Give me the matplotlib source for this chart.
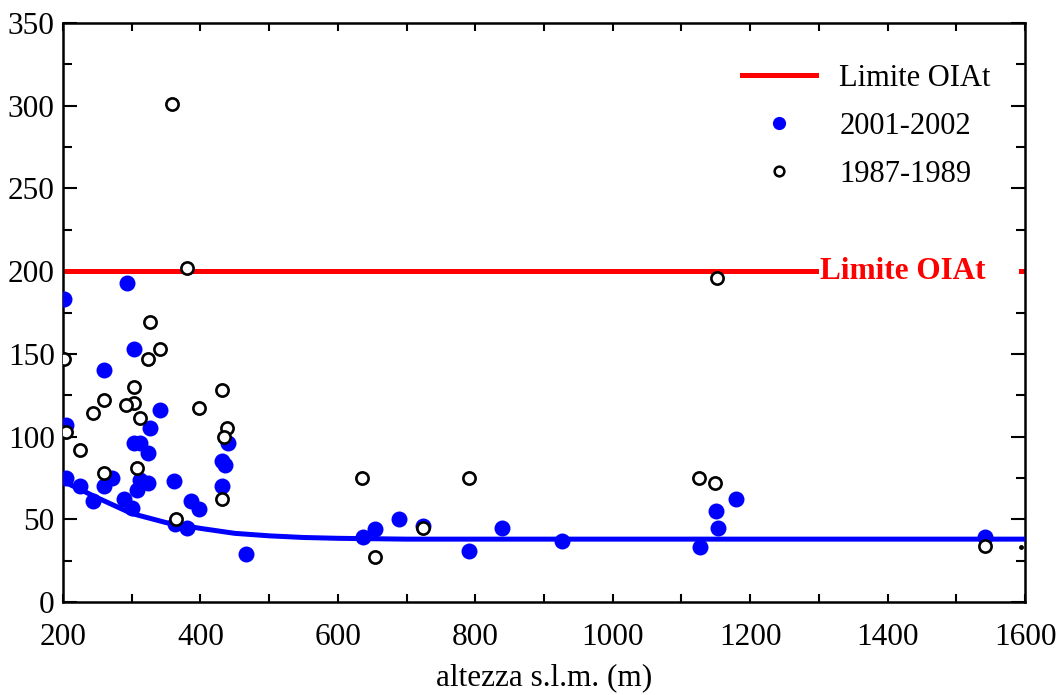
import matplotlib.pyplot as plt
from matplotlib.lines import Line2D
from matplotlib.ticker import MultipleLocator

plt.rcParams['font.family'] = ['Liberation Serif', 'DejaVu Serif']

# 2001-2002 survey (filled blue)
alt_2001 = [202, 293, 303, 259, 341, 205, 327, 304, 312, 323, 440, 432, 436, 432,
            205, 271, 259, 225, 312, 324, 307, 361, 243, 289, 300, 386, 398, 363,
            381, 466, 637, 654, 689, 724, 791, 839, 926, 1127, 1150, 1153, 1180, 1542]
val_2001 = [183, 193, 153, 140, 116, 107, 105, 96, 96, 90, 96, 85, 83, 70,
            75, 75, 70, 70, 74, 72, 68, 73, 61, 62, 57, 61, 56, 47,
            45, 29, 39, 44, 50, 46, 31, 45, 37, 33, 55, 45, 62, 39]

# 1987-1989 survey (open circles)
alt_1987 = [359, 380, 1152, 327, 341, 323, 202, 303, 432, 259, 303, 292, 398, 243,
            312, 439, 435, 205, 225, 307, 259, 432, 365, 635, 654, 724, 791, 1126,
            1149, 1542]
val_1987 = [301, 202, 196, 169, 153, 147, 147, 130, 128, 122, 120, 119, 117, 114,
            111, 105, 100, 103, 92, 81, 78, 62, 50, 75, 27, 45, 75, 75,
            72, 34]

# trend curve for 2001-2002
trend_x = [200, 250, 300, 350, 400, 450, 500, 550, 600, 700, 1600]
trend_y = [73, 63, 53.5, 48, 44.5, 41.5, 40, 39, 38.5, 38, 38]

limit = 200
stray_x = [1594]
stray_y = [33]

fig = plt.figure(figsize=(10.6, 6.95), dpi=100)
ax = fig.add_axes([63 / 1060, 1 - 602 / 695, 962 / 1060, 579 / 695])

ax.axhline(limit, color='#ff0000', lw=3.6, zorder=2)
ax.text(1302, limit, 'Limite OIAt    ', color='#ff0000', fontsize=22.5, fontweight='bold',
        ha='left', va='center', zorder=3,
        bbox=dict(boxstyle='square,pad=0.05', fc='white', ec='none'))

ax.plot(trend_x, trend_y, color='#0000ff', lw=3.6, zorder=4)
ax.plot(alt_2001, val_2001, 'o', color='#0000ff', ms=11.5, mew=0, zorder=5)
ax.plot(alt_1987, val_1987, 'o', mfc='white', mec='black', ms=8.8, mew=1.9, zorder=6)
ax.plot(stray_x, stray_y, '.', color='black', ms=5, zorder=6)

ax.set_xlim(200, 1600)
ax.set_ylim(0, 350)
ax.xaxis.set_major_locator(MultipleLocator(200))
ax.xaxis.set_minor_locator(MultipleLocator(100))
ax.yaxis.set_major_locator(MultipleLocator(50))
ax.yaxis.set_minor_locator(MultipleLocator(25))
ax.tick_params(which='both', direction='in', top=True, right=True, width=1.5,
               labelsize=22.5)
ax.tick_params(axis='x', which='both', length=6, pad=15)
ax.tick_params(axis='y', which='major', length=10, pad=6)
ax.tick_params(axis='y', which='minor', length=6.5)
for s in ax.spines.values():
    s.set_linewidth(1.8)

ax.set_xlabel('altezza s.l.m. (m)', fontsize=22.5, labelpad=8)

handles = [
    Line2D([], [], color='#ff0000', lw=3.6),
    Line2D([], [], ls='none', marker='o', color='#0000ff', ms=9.5, mew=0),
    Line2D([], [], ls='none', marker='o', mfc='white', mec='black', ms=7, mew=1.8),
]
ax.legend(handles, ['Limite OIAt', '2001-2002', '1987-1989'], loc='upper right',
          bbox_to_anchor=(0.993, 0.977), frameon=False, fontsize=22,
          handlelength=2.45, handletextpad=0.75, labelspacing=0.62)

fig.savefig('out.png', dpi=100)
